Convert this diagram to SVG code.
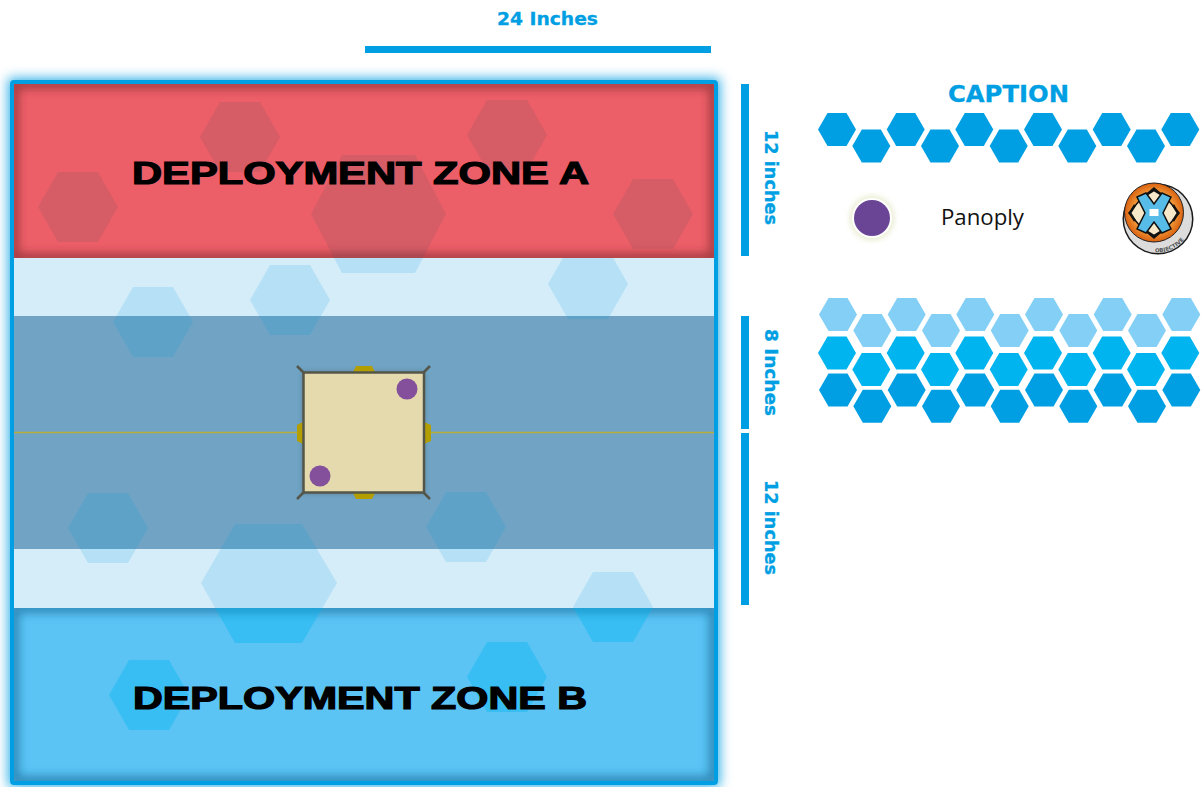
<svg xmlns="http://www.w3.org/2000/svg" width="1203" height="787" viewBox="0 0 1203 787">
<style>
.lbl{font-family:"DejaVu Sans",sans-serif;font-weight:700;fill:#009fe3;stroke:#009fe3;stroke-width:.3px}
.zone{font-family:"Liberation Sans",Arial,sans-serif;font-weight:700;font-size:31px;fill:#000;stroke:#000;stroke-width:1.2px}
.bar{fill:#009fe3}
.hb{fill:#00a0e3;fill-opacity:.15}
.hr{fill:#6e5560;fill-opacity:.18}
.hbb{fill:#00b5ef;fill-opacity:.38}
.tab{fill:#b39e00}
.tick{stroke:#55564a;stroke-width:2.5;fill:none}
.pan{fill:#84509c}
</style>
<defs>
<polygon id="h" points="-19,0 -9.5,-16.5 9.5,-16.5 19,0 9.5,16.5 -9.500,16.5"/>
<polygon id="H" points="-40,0 -20,-35 20,-35 40,0 20,35 -20,35"/>
<filter id="b14" x="-10%" y="-10%" width="120%" height="120%"><feGaussianBlur stdDeviation="6"/></filter>
<filter id="b4" x="-10%" y="-20%" width="120%" height="140%"><feGaussianBlur stdDeviation="5"/></filter>
<filter id="b2" x="-30%" y="-30%" width="160%" height="160%"><feGaussianBlur stdDeviation="2.5"/></filter>
<clipPath id="cr"><rect x="14" y="84" width="700" height="174"/></clipPath>
<clipPath id="cb"><rect x="14" y="608" width="700" height="173"/></clipPath>
<clipPath id="cm"><rect x="14" y="258" width="700" height="350"/></clipPath>
<clipPath id="logoc"><circle cx="1154" cy="212.500" r="29"/></clipPath>
<radialGradient id="org" cx="50%" cy="50%" r="50%"><stop offset="0" stop-color="#fff3d0"/><stop offset=".55" stop-color="#fbb04a"/><stop offset="1" stop-color="#d9600f"/></radialGradient>
<path id="arc" d="M1154 252 A33.500 33.500 0 0 0 1190 228"/>
</defs>

<g id="board">
<rect x="8" y="78" width="712" height="709" rx="3" fill="#009fe3" fill-opacity=".8" filter="url(#b14)"/>
<rect x="14" y="84" width="700" height="697" fill="#fff"/>
<g id="zone-a">
<rect x="14" y="84" width="700" height="174" fill="#ed5f68"/>
<g clip-path="url(#cr)"><rect x="14" y="84" width="700" height="174" fill="none" stroke="#7c2a30" stroke-opacity=".7" stroke-width="9" filter="url(#b4)"/></g>
</g>
<g id="band-upper"><rect x="14" y="258" width="700" height="58" fill="#d5ecf9"/></g>
<g id="band-centre"><rect x="14" y="316" width="700" height="233" fill="#70a3c4"/></g>
<g id="band-lower"><rect x="14" y="549" width="700" height="59" fill="#d5ecf9"/></g>
<g id="zone-b">
<rect x="14" y="608" width="700" height="173" fill="#5bc4f5"/>
<g clip-path="url(#cb)"><rect x="14" y="608" width="700" height="173" fill="none" stroke="#1d6e9c" stroke-opacity=".7" stroke-width="10" filter="url(#b4)"/></g>
</g>

<g id="hexes-a" clip-path="url(#cr)">
<use href="#H" class="hr" x="240" y="137"/>
<use href="#H" class="hr" x="507" y="135"/>
<use href="#H" class="hr" x="78" y="207"/>
<use href="#H" class="hr" x="653" y="214"/>
<polygon class="hr" points="311,214 342,155 415,155 446,214 415,273 342,273"/>
</g>
<g id="hexes-mid" clip-path="url(#cm)">
<polygon class="hb" points="311,214 342,155 415,155 446,214 415,273 342,273"/>
<use href="#H" class="hb" x="588" y="284"/>
<use href="#H" class="hb" x="290" y="300"/>
<use href="#H" class="hb" x="153" y="322"/>
<use href="#H" class="hb" x="108" y="528"/>
<use href="#H" class="hb" x="466" y="527"/>
<polygon class="hb" points="201,583 235,524 302,524 337,583 302,643 235,643"/>
<use href="#H" class="hb" x="613" y="607"/>
</g>
<g id="hexes-b" clip-path="url(#cb)">
<polygon class="hbb" points="201,583 235,524 302,524 337,583 302,643 235,643"/>
<use href="#H" class="hbb" x="613" y="607"/>
<use href="#H" class="hbb" x="149" y="695"/>
<use href="#H" class="hbb" x="507" y="677"/>
</g>

<line x1="14" y1="432.500" x2="714" y2="432.500" stroke="#b8ae3e" stroke-width="1.500"/>
<rect x="12" y="82" width="704" height="701" rx="2" fill="none" stroke="#009fe3" stroke-width="4"/>
</g>

<g id="objective-square">
<rect x="303" y="372" width="121" height="121" fill="#3d4a4a" fill-opacity=".55" filter="url(#b2)"/>
<path class="tab" d="M353 372l3-6h16l3 6zM353 493l3 6h16l3-6zM303 422l-6 3v16l6 3zM424 422l7 3v16l-7 3z"/>
<path class="tick" d="M304 373l-7-7M423 373l7-7M304 492l-7 7M423 492l7 7"/>
<rect x="303.500" y="372.500" width="120.500" height="120" fill="#e4daad" stroke="#55564a" stroke-width="2.500"/>
<circle class="pan" cx="407" cy="389" r="10.500"/>
<circle class="pan" cx="320" cy="476" r="10.500"/>
</g>

<g id="zone-labels">
<text class="zone" x="132" y="183.500" textLength="457" lengthAdjust="spacingAndGlyphs">DEPLOYMENT ZONE A</text>
<text class="zone" x="133" y="708.500" textLength="454" lengthAdjust="spacingAndGlyphs">DEPLOYMENT ZONE B</text>
</g>

<g id="measures">
<rect class="bar" x="365" y="46" width="346" height="7"/>
<rect class="bar" x="741" y="84" width="8" height="172"/>
<rect class="bar" x="741" y="316" width="8" height="113"/>
<rect class="bar" x="741" y="433" width="8" height="172"/>
<text class="lbl" x="497" y="25" font-size="17" textLength="101" lengthAdjust="spacingAndGlyphs">24 Inches</text>
<text class="lbl" font-size="17" transform="translate(765 130) rotate(90)" textLength="95" lengthAdjust="spacingAndGlyphs">12 inches</text>
<text class="lbl" font-size="17" transform="translate(765 329) rotate(90)" textLength="87" lengthAdjust="spacingAndGlyphs">8 Inches</text>
<text class="lbl" font-size="17" transform="translate(765 480) rotate(90)" textLength="95" lengthAdjust="spacingAndGlyphs">12 inches</text>
</g>

<g id="caption">
<text class="lbl" x="948" y="102" font-size="23" textLength="121" lengthAdjust="spacingAndGlyphs">CAPTION</text>
<g id="caption-row" fill="#009fe3">
<use href="#h" x="837" y="129.500"/><use href="#h" x="871.300" y="146"/><use href="#h" x="905.700" y="129.500"/><use href="#h" x="940" y="146"/><use href="#h" x="974.300" y="129.500"/><use href="#h" x="1008.700" y="146"/><use href="#h" x="1043" y="129.500"/><use href="#h" x="1077.300" y="146"/><use href="#h" x="1111.700" y="129.500"/><use href="#h" x="1146" y="146"/><use href="#h" x="1180.300" y="129.500"/>
</g>
<g id="panoply-key">
<circle cx="872" cy="218" r="23" fill="#e6e8c8" fill-opacity=".7" filter="url(#b2)"/>
<circle cx="872" cy="218" r="20" fill="#fff"/>
<circle cx="872" cy="218" r="18" fill="#6a4595"/>
<text x="941" y="225" font-family="'Open Sans',sans-serif" font-size="22" fill="#111" textLength="83" lengthAdjust="spacingAndGlyphs">Panoply</text>
</g>
<g id="objective-key">
<circle cx="1158" cy="219" r="35.500" fill="#1a1a1a"/>
<circle cx="1158" cy="219" r="34" fill="#dcdcdc"/>
<circle cx="1154" cy="212.500" r="29.500" fill="url(#org)" stroke="#222" stroke-width="1"/>
<g clip-path="url(#logoc)">
<path d="M1154 188l13 11-13 8-13-8zM1154 238l13-11-13-8-13 8zM1129 213l11-13 8 13-8 13zM1179 213l-11-13-8 13 8 13z" fill="#f6e8c8" stroke="#111" stroke-width="1.500"/>
<path d="M1146 195l8-5 8 5M1146 231l8 5 8-5M1135 205l-5 8 5 8M1173 205l5 8-5 8" fill="none" stroke="#111" stroke-width="2.500"/>
</g>
<path d="M1137 197l9-4 8 11 8-11 9 4-8 16 8 16-9 4-8-11-8 11-9-4 8-16z" fill="#57bde8" stroke="#111" stroke-width="1.500"/>
<rect x="1149.500" y="209" width="9" height="7" fill="#fff"/>
<text font-family="'DejaVu Sans',sans-serif" font-weight="700" font-size="5.500" fill="#555"><textPath href="#arc" startOffset="1">OBJECTIVE</textPath></text>
</g>
<g id="hex-rows">
<g fill="#84cff5">
<use href="#h" x="838" y="314.500"/><use href="#h" x="872.300" y="330.500"/><use href="#h" x="906.700" y="314.500"/><use href="#h" x="941" y="330.500"/><use href="#h" x="975.300" y="314.500"/><use href="#h" x="1009.700" y="330.500"/><use href="#h" x="1044" y="314.500"/><use href="#h" x="1078.300" y="330.500"/><use href="#h" x="1112.700" y="314.500"/><use href="#h" x="1147" y="330.500"/><use href="#h" x="1181.300" y="314.500"/>
</g>
<g fill="#00b5ef">
<use href="#h" x="837" y="353"/><use href="#h" x="871.300" y="369.500"/><use href="#h" x="905.700" y="353"/><use href="#h" x="940" y="369.500"/><use href="#h" x="974.300" y="353"/><use href="#h" x="1008.700" y="369.500"/><use href="#h" x="1043" y="353"/><use href="#h" x="1077.300" y="369.500"/><use href="#h" x="1111.700" y="353"/><use href="#h" x="1146" y="369.500"/><use href="#h" x="1180.300" y="353"/>
</g>
<g fill="#009fe3">
<use href="#h" x="838" y="390"/><use href="#h" x="872.300" y="406.300"/><use href="#h" x="906.700" y="390"/><use href="#h" x="941" y="406.300"/><use href="#h" x="975.300" y="390"/><use href="#h" x="1009.700" y="406.300"/><use href="#h" x="1044" y="390"/><use href="#h" x="1078.300" y="406.300"/><use href="#h" x="1112.700" y="390"/><use href="#h" x="1147" y="406.300"/><use href="#h" x="1181.300" y="390"/>
</g>
</g>
</g>
</svg>
